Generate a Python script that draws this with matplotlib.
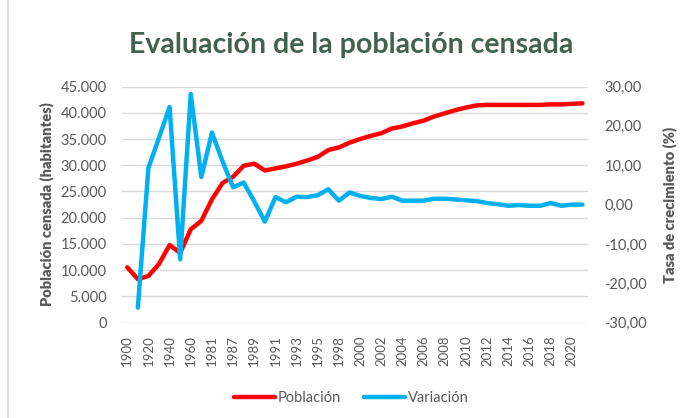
# Evolución de la población censada y su tasa de crecimiento

import numpy as np
import matplotlib.pyplot as plt
import matplotlib.ticker as mticker
from matplotlib.patches import Rectangle

plt.rcParams['font.family'] = ['Lato', 'DejaVu Sans']

years = ['1900', '1910', '1920', '1930', '1940', '1950', '1960', '1970', '1981', '1986',
         '1987', '1988', '1989', '1990', '1991', '1992', '1993', '1994', '1995', '1996',
         '1998', '1999', '2000', '2001', '2002', '2003', '2004', '2005', '2006', '2007',
         '2008', '2009', '2010', '2011', '2012', '2013', '2014', '2015', '2016', '2017',
         '2018', '2019', '2020', '2021']

poblacion = [10560, 8300, 8900, 11200, 14800, 13300, 17800, 19400, 23500, 26600,
             27800, 29900, 30300, 29000, 29400, 29800, 30300, 30900, 31600, 32900,
             33400, 34300, 35000, 35600, 36100, 37000, 37400, 38000, 38500, 39300,
             39900, 40500, 41000, 41400, 41500, 41500, 41500, 41500, 41500, 41500,
             41600, 41600, 41700, 41800]

variacion = [None, -26.2, 9.3, 17.0, 24.8, -13.9, 28.1, 7.0, 18.3, 11.0,
             4.4, 5.6, 0.8, -4.3, 1.9, 0.6, 2.0, 1.9, 2.4, 3.9,
             1.0, 3.1, 2.2, 1.7, 1.4, 2.0, 1.0, 1.0, 1.0, 1.5,
             1.5, 1.3, 1.1, 0.9, 0.4, 0.1, -0.3, -0.1, -0.3, -0.3,
             0.4, -0.3, 0.0, 0.0]

x = np.arange(len(years))
var = np.array(variacion, dtype=float)

text_col = '#595959'
fig = plt.figure(figsize=(6.89, 4.18), dpi=100)
ax = fig.add_axes([0.177, 0.228, 0.676, 0.565])
ax2 = ax.twinx()
ax2.patch.set_visible(False)

# chart border
fig.patches.append(Rectangle((0.011, -0.01), 1.0, 1.02, transform=fig.transFigure,
                             fill=False, edgecolor='#d9d9d9', linewidth=1.2))

l1, = ax.plot(x, poblacion, color='#ff0000', lw=3.2, label='Población', solid_capstyle='round')
l2, = ax2.plot(x, var, color='#00b0f0', lw=3.2, label='Variación', solid_capstyle='round')

ax.set_ylim(0, 45000)
ax.set_yticks(np.arange(0, 45001, 5000))
ax.yaxis.set_major_formatter(mticker.FuncFormatter(lambda v, p: f'{v:,.0f}'.replace(',', '.')))
ax2.set_ylim(-30, 30)
ax2.set_yticks(np.arange(-30, 31, 10))
ax2.yaxis.set_major_formatter(mticker.FuncFormatter(lambda v, p: f'{v:.2f}'.replace('.', ',')))

ax.set_xlim(-0.5, len(years) - 0.5)
ax.set_xticks(x[::2])
ax.set_xticklabels(years[::2], rotation=90)

ax.grid(axis='y', color='#d9d9d9', lw=1)
ax.set_axisbelow(True)
for a in (ax, ax2):
    for s in a.spines.values():
        s.set_visible(False)
    a.tick_params(length=0, colors=text_col, labelsize=10.5)
ax.tick_params(axis='x', labelsize=9.5, pad=9)
ax.tick_params(axis='y', pad=11)
ax2.tick_params(axis='y', pad=12)

ax.set_ylabel('Población censada (habitantes)', fontsize=10.5, fontweight='heavy', color=text_col, labelpad=5)
ax2.set_ylabel('Tasa de crecimiento (%)', fontsize=10.5, fontweight='heavy', color=text_col, labelpad=11)

fig.text(0.51, 0.892, 'Evaluación de la población censada', ha='center', va='center',
         fontsize=20.5, fontweight='bold', color='#44614f')

fig.legend(handles=[l1, l2], loc='center', bbox_to_anchor=(0.51, 0.048), ncol=2, frameon=False,
           fontsize=10.5, handlelength=2.8, handletextpad=0.2, columnspacing=1.6, labelcolor=text_col)

fig.savefig('out.png', dpi=100)
